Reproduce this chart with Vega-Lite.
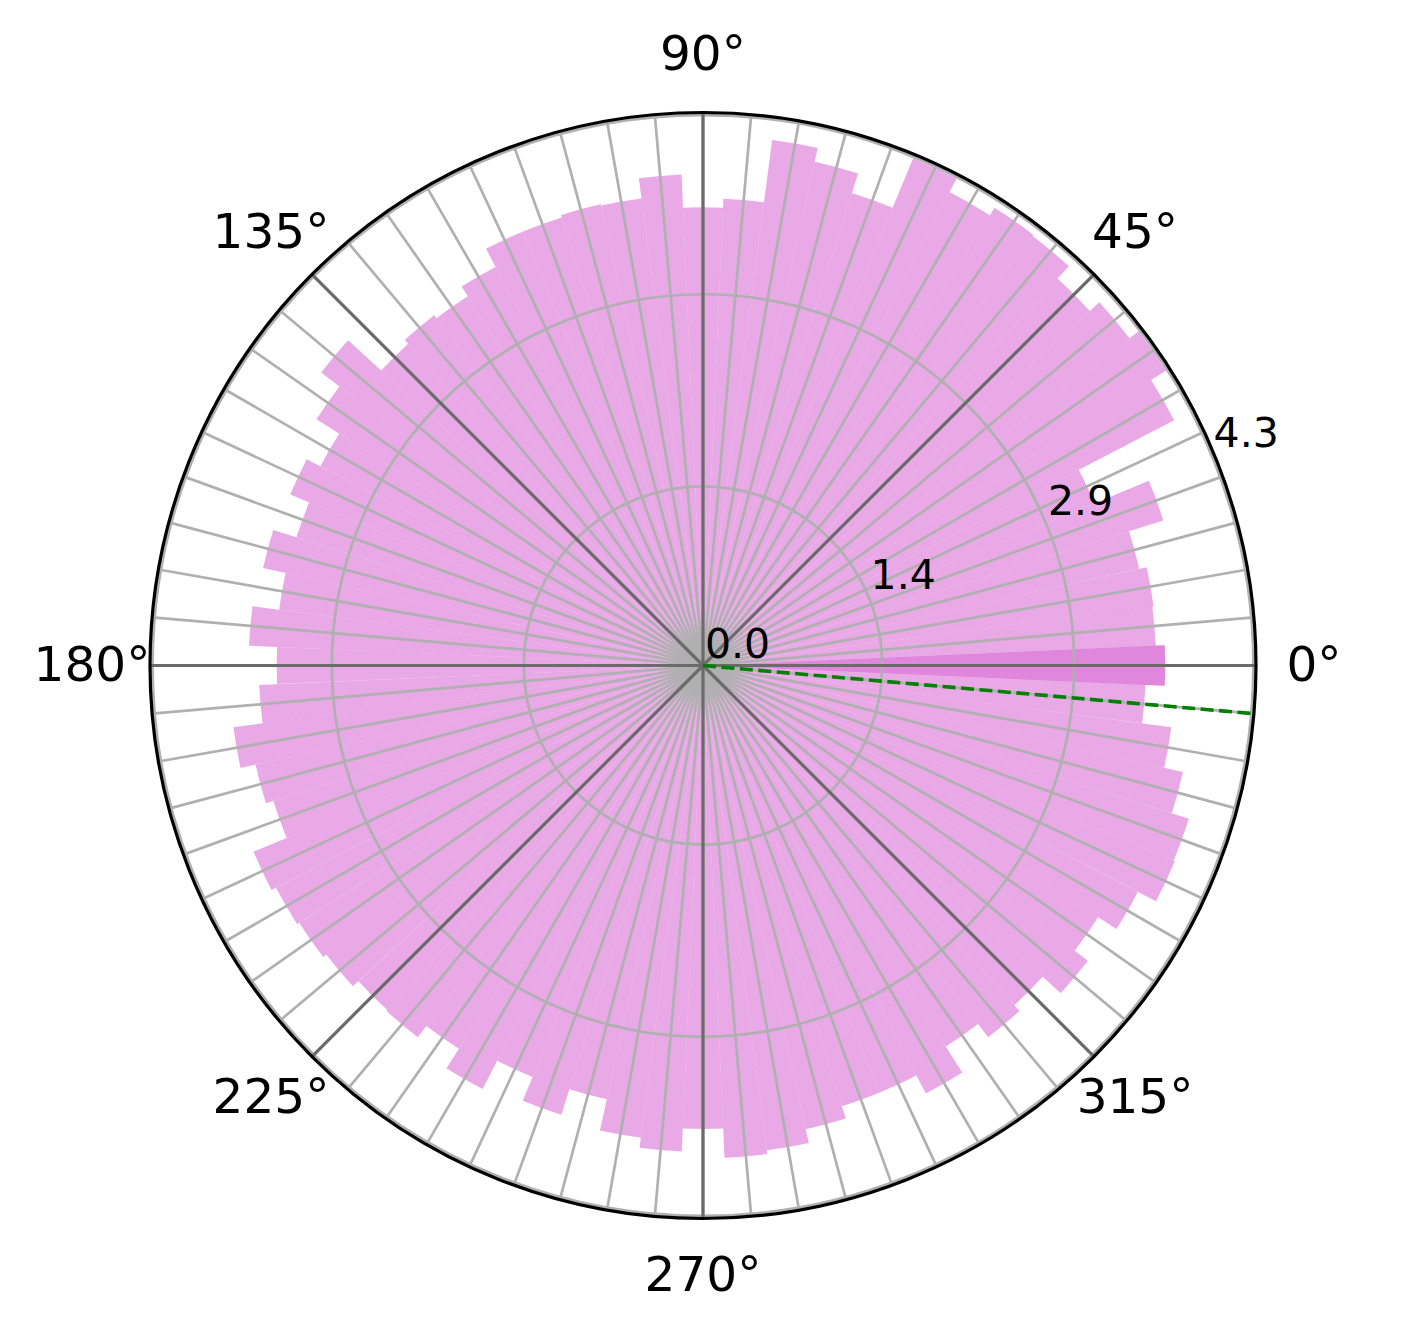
{
  "$schema": "https://vega.github.io/schema/vega-lite/v6.json",
  "width": 1404,
  "height": 1331,
  "autosize": {"type": "none"},
  "padding": {"left": 1, "top": 0, "right": 0, "bottom": 2},
  "background": "white",
  "config": {"view": {"stroke": null}},
  "datasets": {
    "bars": [
      {"angle": 0, "start": -2.5, "end": 2.5, "value": 3.61, "highlight": true},
      {"angle": 5, "start": 2.5, "end": 7.5, "value": 3.54, "highlight": false},
      {"angle": 10, "start": 7.5, "end": 12.5, "value": 3.55, "highlight": false},
      {"angle": 15, "start": 12.5, "end": 17.5, "value": 3.49, "highlight": false},
      {"angle": 20, "start": 17.5, "end": 22.5, "value": 3.77, "highlight": false},
      {"angle": 25, "start": 22.5, "end": 27.5, "value": 3.31, "highlight": false},
      {"angle": 30, "start": 27.5, "end": 32.5, "value": 4.15, "highlight": false},
      {"angle": 35, "start": 32.5, "end": 37.5, "value": 4.29, "highlight": false},
      {"angle": 40, "start": 37.5, "end": 42.5, "value": 4.2, "highlight": false},
      {"angle": 45, "start": 42.5, "end": 47.5, "value": 4.1, "highlight": false},
      {"angle": 50, "start": 47.5, "end": 52.5, "value": 4.23, "highlight": false},
      {"angle": 55, "start": 52.5, "end": 57.5, "value": 4.24, "highlight": false},
      {"angle": 60, "start": 57.5, "end": 62.5, "value": 4.17, "highlight": false},
      {"angle": 65, "start": 62.5, "end": 67.5, "value": 4.29, "highlight": false},
      {"angle": 70, "start": 67.5, "end": 72.5, "value": 3.87, "highlight": false},
      {"angle": 75, "start": 72.5, "end": 77.5, "value": 4.03, "highlight": false},
      {"angle": 80, "start": 77.5, "end": 82.5, "value": 4.14, "highlight": false},
      {"angle": 85, "start": 82.5, "end": 87.5, "value": 3.65, "highlight": false},
      {"angle": 90, "start": 87.5, "end": 92.5, "value": 3.58, "highlight": false},
      {"angle": 95, "start": 92.5, "end": 97.5, "value": 3.84, "highlight": false},
      {"angle": 100, "start": 97.5, "end": 102.5, "value": 3.68, "highlight": false},
      {"angle": 105, "start": 102.5, "end": 107.5, "value": 3.69, "highlight": false},
      {"angle": 110, "start": 107.5, "end": 112.5, "value": 3.67, "highlight": false},
      {"angle": 115, "start": 112.5, "end": 117.5, "value": 3.67, "highlight": false},
      {"angle": 120, "start": 117.5, "end": 122.5, "value": 3.51, "highlight": false},
      {"angle": 125, "start": 122.5, "end": 127.5, "value": 3.42, "highlight": false},
      {"angle": 130, "start": 127.5, "end": 132.5, "value": 3.45, "highlight": false},
      {"angle": 135, "start": 132.5, "end": 137.5, "value": 3.41, "highlight": false},
      {"angle": 140, "start": 137.5, "end": 142.5, "value": 3.76, "highlight": false},
      {"angle": 145, "start": 142.5, "end": 147.5, "value": 3.58, "highlight": false},
      {"angle": 150, "start": 147.5, "end": 152.5, "value": 3.37, "highlight": false},
      {"angle": 155, "start": 152.5, "end": 157.5, "value": 3.49, "highlight": false},
      {"angle": 160, "start": 157.5, "end": 162.5, "value": 3.33, "highlight": false},
      {"angle": 165, "start": 162.5, "end": 167.5, "value": 3.52, "highlight": false},
      {"angle": 170, "start": 167.5, "end": 172.5, "value": 3.34, "highlight": false},
      {"angle": 175, "start": 172.5, "end": 177.5, "value": 3.55, "highlight": false},
      {"angle": 180, "start": 177.5, "end": 182.5, "value": 3.33, "highlight": false},
      {"angle": 185, "start": 182.5, "end": 187.5, "value": 3.47, "highlight": false},
      {"angle": 190, "start": 187.5, "end": 192.5, "value": 3.7, "highlight": false},
      {"angle": 195, "start": 192.5, "end": 197.5, "value": 3.58, "highlight": false},
      {"angle": 200, "start": 197.5, "end": 202.5, "value": 3.52, "highlight": false},
      {"angle": 205, "start": 202.5, "end": 207.5, "value": 3.8, "highlight": false},
      {"angle": 210, "start": 207.5, "end": 212.5, "value": 3.76, "highlight": false},
      {"angle": 215, "start": 212.5, "end": 217.5, "value": 3.74, "highlight": false},
      {"angle": 220, "start": 217.5, "end": 222.5, "value": 3.71, "highlight": false},
      {"angle": 225, "start": 222.5, "end": 227.5, "value": 3.65, "highlight": false},
      {"angle": 230, "start": 227.5, "end": 232.5, "value": 3.66, "highlight": false},
      {"angle": 235, "start": 232.5, "end": 237.5, "value": 3.55, "highlight": false},
      {"angle": 240, "start": 237.5, "end": 242.5, "value": 3.73, "highlight": false},
      {"angle": 245, "start": 242.5, "end": 247.5, "value": 3.48, "highlight": false},
      {"angle": 250, "start": 247.5, "end": 252.5, "value": 3.68, "highlight": false},
      {"angle": 255, "start": 252.5, "end": 257.5, "value": 3.47, "highlight": false},
      {"angle": 260, "start": 257.5, "end": 262.5, "value": 3.72, "highlight": false},
      {"angle": 265, "start": 262.5, "end": 267.5, "value": 3.8, "highlight": false},
      {"angle": 270, "start": 267.5, "end": 272.5, "value": 3.62, "highlight": false},
      {"angle": 275, "start": 272.5, "end": 277.5, "value": 3.85, "highlight": false},
      {"angle": 280, "start": 277.5, "end": 282.5, "value": 3.82, "highlight": false},
      {"angle": 285, "start": 282.5, "end": 287.5, "value": 3.71, "highlight": false},
      {"angle": 290, "start": 287.5, "end": 292.5, "value": 3.61, "highlight": false},
      {"angle": 295, "start": 292.5, "end": 297.5, "value": 3.61, "highlight": false},
      {"angle": 300, "start": 297.5, "end": 302.5, "value": 3.77, "highlight": false},
      {"angle": 305, "start": 302.5, "end": 307.5, "value": 3.53, "highlight": false},
      {"angle": 310, "start": 307.5, "end": 312.5, "value": 3.66, "highlight": false},
      {"angle": 315, "start": 312.5, "end": 317.5, "value": 3.6, "highlight": false},
      {"angle": 320, "start": 317.5, "end": 322.5, "value": 3.79, "highlight": false},
      {"angle": 325, "start": 322.5, "end": 327.5, "value": 3.66, "highlight": false},
      {"angle": 330, "start": 327.5, "end": 332.5, "value": 3.83, "highlight": false},
      {"angle": 335, "start": 332.5, "end": 337.5, "value": 3.99, "highlight": false},
      {"angle": 340, "start": 337.5, "end": 342.5, "value": 3.98, "highlight": false},
      {"angle": 345, "start": 342.5, "end": 347.5, "value": 3.84, "highlight": false},
      {"angle": 350, "start": 347.5, "end": 352.5, "value": 3.69, "highlight": false},
      {"angle": 355, "start": 352.5, "end": 357.5, "value": 3.46, "highlight": false}
    ],
    "spokes": [
      {"angle": 0}, {"angle": 5}, {"angle": 10}, {"angle": 15}, {"angle": 20}, {"angle": 25},
      {"angle": 30}, {"angle": 35}, {"angle": 40}, {"angle": 45}, {"angle": 50}, {"angle": 55},
      {"angle": 60}, {"angle": 65}, {"angle": 70}, {"angle": 75}, {"angle": 80}, {"angle": 85},
      {"angle": 90}, {"angle": 95}, {"angle": 100}, {"angle": 105}, {"angle": 110}, {"angle": 115},
      {"angle": 120}, {"angle": 125}, {"angle": 130}, {"angle": 135}, {"angle": 140}, {"angle": 145},
      {"angle": 150}, {"angle": 155}, {"angle": 160}, {"angle": 165}, {"angle": 170}, {"angle": 175},
      {"angle": 180}, {"angle": 185}, {"angle": 190}, {"angle": 195}, {"angle": 200}, {"angle": 205},
      {"angle": 210}, {"angle": 215}, {"angle": 220}, {"angle": 225}, {"angle": 230}, {"angle": 235},
      {"angle": 240}, {"angle": 245}, {"angle": 250}, {"angle": 255}, {"angle": 260}, {"angle": 265},
      {"angle": 270}, {"angle": 275}, {"angle": 280}, {"angle": 285}, {"angle": 290}, {"angle": 295},
      {"angle": 300}, {"angle": 305}, {"angle": 310}, {"angle": 315}, {"angle": 320}, {"angle": 325},
      {"angle": 330}, {"angle": 335}, {"angle": 340}, {"angle": 345}, {"angle": 350}, {"angle": 355}
    ],
    "tlabels": [
      {"angle": 0, "text": "0°"}, {"angle": 45, "text": "45°"}, {"angle": 90, "text": "90°"},
      {"angle": 135, "text": "135°"}, {"angle": 180, "text": "180°"}, {"angle": 225, "text": "225°"},
      {"angle": 270, "text": "270°"}, {"angle": 315, "text": "315°"}
    ],
    "rings": [{"r": 1.4}, {"r": 2.9}, {"r": 4.3}],
    "rlabels": [
      {"r": 0, "text": "0.0"}, {"r": 1.4, "text": "1.4"}, {"r": 2.9, "text": "2.9"}, {"r": 4.3, "text": "4.3"}
    ],
    "mean": [{"x0": 0, "y0": 0, "x1": 4.2836, "y1": -0.3748}]
  },
  "layer": [
    {
      "data": {"name": "bars"},
      "mark": {"type": "arc", "color": "orchid", "opacity": 0.6},
      "encoding": {
        "theta": {"field": "start", "type": "quantitative", "stack": null,
          "scale": {"type": "linear", "domain": [0, 360], "range": [1.5707963267948966, -4.71238898038469]}},
        "theta2": {"field": "end"},
        "radius": {"field": "value", "type": "quantitative", "stack": null,
          "scale": {"type": "linear", "domain": [0, 4.32], "range": [0, 553], "zero": true, "nice": false}}
      }
    },
    {
      "data": {"name": "bars"},
      "transform": [{"filter": "datum.highlight"}],
      "mark": {"type": "arc", "color": "orchid", "opacity": 0.6},
      "encoding": {
        "theta": {"field": "start", "type": "quantitative", "stack": null},
        "theta2": {"field": "end"},
        "radius": {"field": "value", "type": "quantitative", "stack": null}
      }
    },
    {
      "data": {"name": "spokes"},
      "mark": {"type": "arc", "filled": false, "stroke": "#b0b0b0", "strokeWidth": 2.7},
      "encoding": {
        "theta": {"field": "angle", "type": "quantitative", "stack": null},
        "theta2": {"field": "angle"},
        "radius": {"datum": 4.32, "type": "quantitative", "stack": null}
      }
    },
    {
      "data": {"name": "rings"},
      "mark": {"type": "arc", "filled": false, "stroke": "#b0b0b0", "strokeWidth": 2.7},
      "encoding": {
        "theta": {"datum": 0, "type": "quantitative", "stack": null},
        "theta2": {"datum": 360},
        "radius": {"field": "r", "type": "quantitative", "stack": null}
      }
    },
    {
      "data": {"name": "tlabels"},
      "mark": {"type": "arc", "filled": false, "stroke": "#6b6b6b", "strokeWidth": 3.2},
      "encoding": {
        "theta": {"field": "angle", "type": "quantitative", "stack": null},
        "theta2": {"field": "angle"},
        "radius": {"datum": 4.32, "type": "quantitative", "stack": null}
      }
    },
    {
      "data": {"values": [{"edge": "spine"}]},
      "mark": {"type": "arc", "filled": false, "stroke": "black", "strokeWidth": 3.2},
      "encoding": {
        "theta": {"datum": 0, "type": "quantitative", "stack": null},
        "theta2": {"datum": 360},
        "radius": {"datum": 4.32, "type": "quantitative", "stack": null}
      }
    },
    {
      "data": {"name": "mean"},
      "mark": {"type": "rule", "color": "green", "strokeWidth": 3.6, "strokeDash": [13, 5.5]},
      "encoding": {
        "x": {"field": "x0", "type": "quantitative", "axis": null,
          "scale": {"domain": [-5.484375, 5.484375], "nice": false, "zero": false}},
        "y": {"field": "y0", "type": "quantitative", "axis": null,
          "scale": {"domain": [-5.19921875, 5.19921875], "nice": false, "zero": false}},
        "x2": {"field": "x1"},
        "y2": {"field": "y1"}
      }
    },
    {
      "data": {"name": "rlabels"},
      "mark": {"type": "text", "align": "left", "baseline": "alphabetic", "dx": 2, "dy": -8,
        "font": "DejaVu Sans", "fontSize": 41, "color": "black"},
      "encoding": {
        "theta": {"datum": 22.5, "type": "quantitative", "stack": null},
        "radius": {"field": "r", "type": "quantitative", "stack": null},
        "text": {"field": "text"}
      }
    },
    {
      "data": {"name": "tlabels"},
      "mark": {"type": "text", "align": "center", "baseline": "middle",
        "font": "DejaVu Sans", "fontSize": 48.5, "color": "black"},
      "encoding": {
        "theta": {"field": "angle", "type": "quantitative", "stack": null},
        "radius": {"datum": 4.773, "type": "quantitative", "stack": null},
        "text": {"field": "text"}
      }
    }
  ]
}
